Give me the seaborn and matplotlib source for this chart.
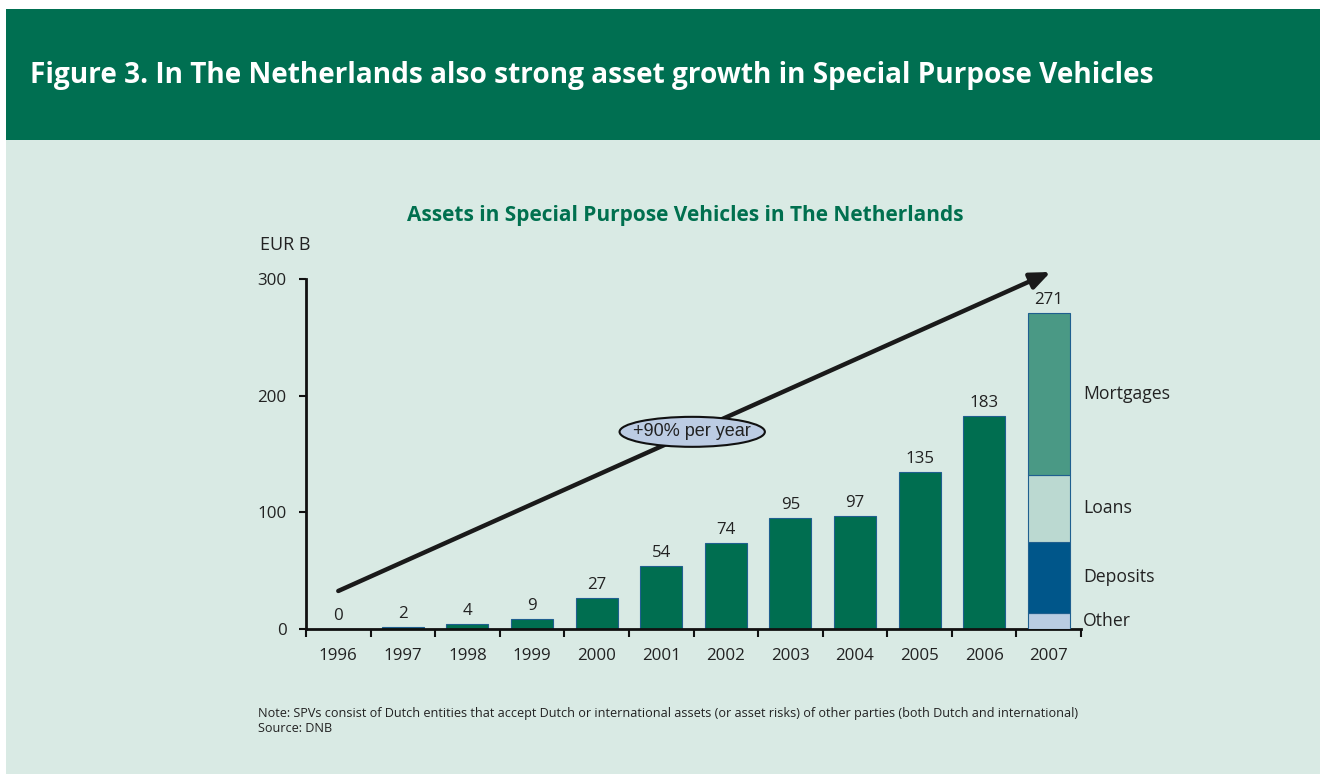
import numpy as np
import pandas as pd
import matplotlib
matplotlib.use("Agg")
import matplotlib.pyplot as plt
from matplotlib.patches import Ellipse, Rectangle
import seaborn as sns

# --- data -------------------------------------------------------------
years = ["1996", "1997", "1998", "1999", "2000", "2001",
         "2002", "2003", "2004", "2005", "2006", "2007"]
total_assets = [0, 2, 4, 9, 27, 54, 74, 95, 97, 135, 183, 271]

# 2007 composition, stacked bottom to top
breakdown_labels = ["Other", "Deposits", "Loans", "Mortgages"]
breakdown_values = [14, 61, 57, 139]

y_ticks = [0, 100, 200, 300]
growth_label = "+90% per year"
trend_start = (0.0, 32.6)
trend_end = (11.03, 306)

# --- style ------------------------------------------------------------
HEADER = "#006F51"
PANEL = "#D9EAE4"
BAR = "#006E50"
EDGE = "#1F5F8F"
TITLE_GREEN = "#00704F"
TEXT = "#222222"
STACK_COLORS = ["#BACCE2", "#00568A", "#BBD9D1", "#4A9985"]
LABEL_SIZE = 12.2

sns.set_theme(style="white")
plt.rcParams["font.family"] = ["Open Sans", "DejaVu Sans"]

W, H = 1320, 774
fig = plt.figure(figsize=(W / 100, H / 100), dpi=100)
fig.patch.set_facecolor("white")

# page panels
fig.add_artist(Rectangle((6 / W, 0), 1 - 6 / W, 1 - 140 / H,
                         transform=fig.transFigure, facecolor=PANEL,
                         edgecolor="none", zorder=0))
fig.add_artist(Rectangle((6 / W, 1 - 140 / H), 1 - 6 / W, 131 / H,
                         transform=fig.transFigure, facecolor=HEADER,
                         edgecolor="none", zorder=0))

fig.text(30 / W, 1 - 75 / H,
         "Figure 3. In The Netherlands also strong asset growth in Special Purpose Vehicles",
         color="white", fontsize=20.2, fontweight="bold", ha="left", va="center")

fig.text(685 / W, 1 - 216 / H, "Assets in Special Purpose Vehicles in The Netherlands",
         color=TITLE_GREEN, fontsize=15, fontweight="bold", ha="center", va="center")
fig.text(260 / W, 1 - 245 / H, "EUR B", color=TEXT, fontsize=13,
         ha="left", va="center")

# --- axes -------------------------------------------------------------
ax = fig.add_axes([306 / W, 1 - 629 / H, 775 / W, 350 / H])
ax.set_facecolor("none")

df = pd.DataFrame({"year": years, "assets": total_assets})
sns.barplot(data=df, x="year", y="assets", order=years, color=BAR,
            saturation=1, width=0.65, edgecolor=EDGE, linewidth=0.8, ax=ax)

# the final year is shown by its composition instead of a single bar
last_idx = len(years) - 1
for patch in ax.patches:
    cx = patch.get_x() + patch.get_width() / 2
    if abs(cx - last_idx) < 0.01:
        patch.set_visible(False)

bottom = 0
for lab, val, col in zip(breakdown_labels, breakdown_values, STACK_COLORS):
    ax.bar(last_idx, val, bottom=bottom, width=0.65, color=col,
           edgecolor=EDGE, linewidth=0.8, zorder=3)
    ax.text(last_idx + 0.53, bottom + val / 2, lab, color=TEXT, fontsize=12.7,
            ha="left", va="center", clip_on=False)
    bottom += val

# value labels above bars
for i, v in enumerate(total_assets):
    ax.annotate(str(v), (i, v), xytext=(0, 3.5), textcoords="offset points",
                ha="center", va="bottom", fontsize=LABEL_SIZE, color=TEXT)

ax.set_xlim(-0.5, len(years) - 0.5)
ax.set_ylim(0, 300)
ax.set_yticks(y_ticks)
ax.set_xlabel("")
ax.set_ylabel("")

ax.set_xticks(np.arange(-0.5, len(years), 1.0), minor=True)
ax.tick_params(axis="x", which="major", length=0, pad=14, labelsize=LABEL_SIZE,
               labelcolor=TEXT)
ax.tick_params(axis="x", which="minor", length=6, width=1.5, color="#111111",
               direction="out", bottom=True)
ax.tick_params(axis="y", which="major", length=5, width=1.5, color="#111111",
               direction="out", left=True, pad=9, labelsize=LABEL_SIZE,
               labelcolor=TEXT)

for side in ["top", "right"]:
    ax.spines[side].set_visible(False)
for side in ["left", "bottom"]:
    ax.spines[side].set_color("#111111")
    ax.spines[side].set_linewidth(2)

# growth trend arrow with its rate badge
ax.annotate("", xy=trend_end, xytext=trend_start,
            arrowprops=dict(arrowstyle="-|>,head_length=0.6,head_width=0.25",
                            color="#1A1A1A", lw=3.2, mutation_scale=20,
                            shrinkA=0, shrinkB=0),
            annotation_clip=False, zorder=5)
badge_x, badge_y = 5.48, 169
ax.add_patch(Ellipse((badge_x, badge_y), 2.25, 25.7, facecolor="#BCCCE3",
                     edgecolor="#111111", linewidth=1.5, zorder=6))
ax.text(badge_x, badge_y, growth_label, ha="center", va="center", fontsize=13,
        color=TEXT, family=["Liberation Sans", "DejaVu Sans"], zorder=7)

# footnote
fig.text(258 / W, 1 - 713 / H,
         "Note: SPVs consist of Dutch entities that accept Dutch or international assets "
         "(or asset risks) of other parties (both Dutch and international)",
         fontsize=9.1, color=TEXT, ha="left", va="center")
fig.text(258 / W, 1 - 729 / H, "Source: DNB", fontsize=9.1, color=TEXT,
         ha="left", va="center")

fig.savefig("out.png", dpi=100, facecolor=fig.get_facecolor())
